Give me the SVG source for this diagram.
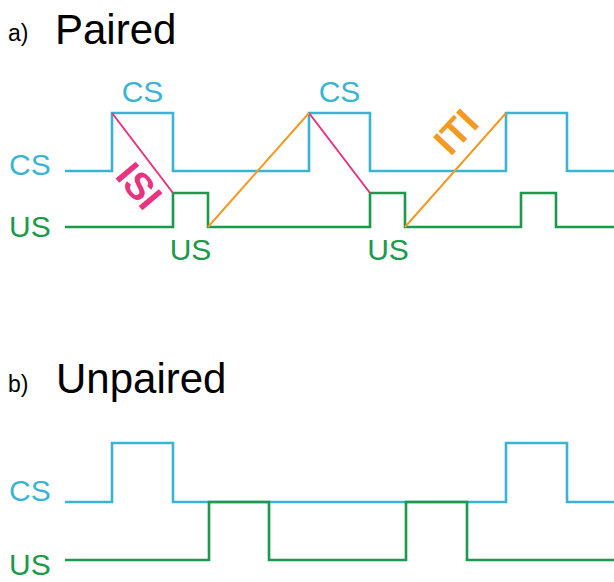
<svg xmlns="http://www.w3.org/2000/svg" width="614" height="582" viewBox="0 0 614 582">
<style>
text{font-family:"Liberation Sans",Arial,sans-serif}
.title{font-size:42px;fill:#000}
.sub{font-size:23px;fill:#000}
.lbl{font-size:30px}
.cs{fill:#3bb4d4}
.us{fill:#1b9a4b}
.wcs{fill:none;stroke:#3bb4d4;stroke-width:2.6}
.wus{fill:none;stroke:#1b9a4b;stroke-width:2.6}
.isi{fill:none;stroke:#e8337f;stroke-width:2}
.iti{fill:none;stroke:#f39a22;stroke-width:2}
.bold{font-weight:bold;font-size:38px}
</style>
<rect width="614" height="582" fill="#fff"/>
<g id="panel-a-title"><text class="sub" x="8" y="41">a)</text><text class="title" x="55" y="44">Paired</text></g>
<g id="panel-b-title"><text class="sub" x="8" y="392">b)</text><text class="title" x="56" y="393">Unpaired</text></g>
<g id="labels-a">
<text class="lbl cs" x="9" y="175">CS</text>
<text class="lbl us" x="9" y="237">US</text>
<text class="lbl cs" x="142.5" y="102" text-anchor="middle">CS</text>
<text class="lbl cs" x="339.5" y="102" text-anchor="middle">CS</text>
<text class="lbl us" x="190.5" y="260" text-anchor="middle">US</text>
<text class="lbl us" x="388" y="260" text-anchor="middle">US</text>
</g>
<g id="labels-b">
<text class="lbl cs" x="9" y="501">CS</text>
<text class="lbl us" x="9" y="575">US</text>
</g>
<g id="connectors">
<path class="wcs" d="M65,171H112V113H173V171H309V113H370V171H506V113H567V171H614"/>
<path class="wus" d="M65,227H173V193H208V227H370V193H405V227H521V193H556V227H614"/>
<path class="isi" d="M112,113L173,193M309,113L370,193"/>
<path class="iti" d="M208,227L309,113M405,227L506,113"/>
<path class="wcs" d="M65,502H112V443H173V502H506V443H567V502H614"/>
<path class="wus" d="M65,560H209V502H269V560H406V502H467V560H614"/>
</g>
<g id="isi-label"><text class="bold" x="0" y="0" text-anchor="middle" fill="#e8337f" transform="translate(139,186) rotate(50)" dy="13">ISI</text></g>
<g id="iti-label"><text class="bold" x="0" y="0" text-anchor="middle" fill="#f39a22" transform="translate(456,132) rotate(-47)" dy="13">ITI</text></g>
</svg>
